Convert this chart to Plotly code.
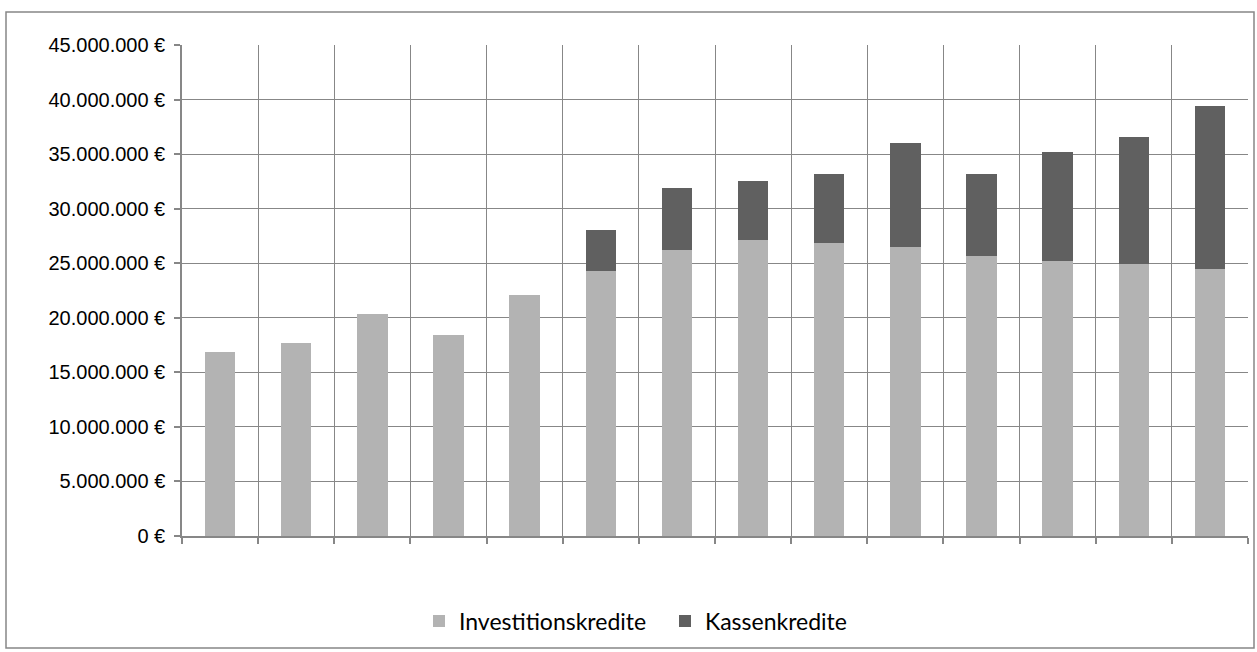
import plotly.graph_objects as go

categories = list(range(1, 15))
investitionskredite = [16.89, 17.66, 20.32, 18.40, 22.09, 24.29, 26.19, 27.13, 26.86, 26.49, 25.69, 25.20, 24.90, 24.47]
kassenkredite = [0, 0, 0, 0, 0, 3.76, 5.74, 5.44, 6.29, 9.50, 7.49, 10.00, 11.64, 14.97]
inv_values = [v * 1e6 for v in investitionskredite]
kas_values = [v * 1e6 for v in kassenkredite]
y_ticks = [0, 5e6, 10e6, 15e6, 20e6, 25e6, 30e6, 35e6, 40e6, 45e6]
y_labels = [f"{v:,.0f}".replace(",", ".") + " €" for v in y_ticks]

W, H = 1257, 652
L, R, T, B = 182, 9, 45, 116
pw, ph = W - L - R, H - T - B

fig = go.Figure()
fig.add_trace(go.Bar(x=categories, y=inv_values, name="Investitionskredite",
                     marker=dict(color="#b3b3b3", line=dict(width=0)), width=0.4))
fig.add_trace(go.Bar(x=categories, y=kas_values, name="Kassenkredite",
                     marker=dict(color="#606060", line=dict(width=0)), width=0.4))

grid = "#878787"
fig.update_layout(
    width=W, height=H, barmode="stack",
    margin=dict(l=L, r=R, t=T, b=B),
    paper_bgcolor="white", plot_bgcolor="white",
    font=dict(family="Liberation Sans, Arial, sans-serif", size=20, color="#000000"),
    showlegend=True,
    legend=dict(orientation="h", x=(665 - L) / pw, xanchor="center", y=(H - 621 - B) / ph, yanchor="middle",
                font=dict(family="Lato, Open Sans, sans-serif", size=23, color="#000000"),
                itemwidth=30, traceorder="normal", entrywidth=201),
    xaxis=dict(range=[0.5, 14.5], tick0=0.5, dtick=1, showticklabels=False,
               showgrid=True, gridcolor=grid, gridwidth=1.3,
               showline=True, linecolor=grid, linewidth=1.5,
               ticks="outside", ticklen=6, tickcolor=grid, tickwidth=1.5, zeroline=False),
    yaxis=dict(range=[0, 45e6], tickmode="array", tickvals=y_ticks, ticktext=y_labels,
               showgrid=True, gridcolor=grid, gridwidth=1.3,
               showline=True, linecolor=grid, linewidth=1.5, ticklabelstandoff=5,
               ticks="outside", ticklen=6, tickcolor=grid, tickwidth=1.5, zeroline=False),
    shapes=[dict(type="rect", xref="paper", yref="paper",
                 x0=(6 - L) / pw, x1=(1254 - L) / pw,
                 y0=(H - 648 - B) / ph, y1=(H - 12 - B) / ph,
                 line=dict(color=grid, width=1.5), fillcolor="rgba(0,0,0,0)", layer="below")],
)

fig.write_html("out.html", config={"displayModeBar": False},
               post_script="document.body.style.margin='0';")
